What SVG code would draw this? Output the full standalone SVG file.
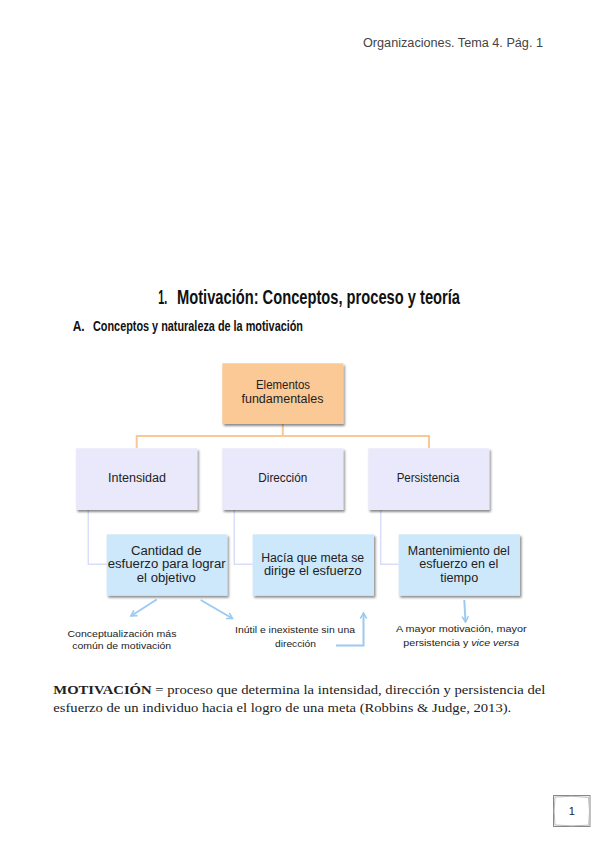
<svg xmlns="http://www.w3.org/2000/svg" width="599" height="848" viewBox="0 0 599 848">
<style>
.sans{font-family:"Liberation Sans","DejaVu Sans",sans-serif;fill:#222}
.node{font-size:12px;text-anchor:middle}
.lbl{font-size:9.5px;text-anchor:middle}
.hand{font-family:"Liberation Sans","DejaVu Sans",sans-serif;font-weight:bold;fill:#111}
.serif{font-family:"Liberation Serif","DejaVu Serif",serif;font-size:12.5px;fill:#222}
.orange{fill:#FAC995}
.lav{fill:#E9E9FB}
.blue{fill:#CDE8FA}
.oline{fill:none;stroke:#F9C894;stroke-width:2}
.lline{fill:none;stroke:#D9DDF9;stroke-width:1.5}
.arrow{fill:none;stroke:#9CCAF2;stroke-width:2;marker-end:url(#ah)}
</style>
<defs>
<filter id="sh" x="-10%" y="-10%" width="125%" height="130%">
<feDropShadow dx="1.5" dy="2" stdDeviation="1" flood-color="#000" flood-opacity="0.45"/>
</filter>
<marker id="ah" viewBox="0 0 10 10" refX="8" refY="5" markerWidth="4" markerHeight="4" orient="auto" markerUnits="strokeWidth">
<polyline points="1,1 8,5 1,9" fill="none" stroke="#9CCAF2" stroke-width="2"/>
</marker>
</defs>
<rect width="599" height="848" fill="#fff"/>

<text class="sans" x="363" y="47" font-size="12" style="fill:#444" textLength="180" lengthAdjust="spacingAndGlyphs">Organizaciones. Tema 4. Pág. 1</text>

<text class="hand" x="158.3" y="303.5" font-size="21" textLength="9" lengthAdjust="spacingAndGlyphs">1.</text>
<text class="hand" x="177" y="303.5" font-size="21" textLength="283" lengthAdjust="spacingAndGlyphs">Motivación: Conceptos, proceso y teoría</text>
<text class="hand" x="72.7" y="330.5" font-size="14.5" textLength="12" lengthAdjust="spacingAndGlyphs">A.</text>
<text class="hand" x="93" y="330.5" font-size="14.5" textLength="210" lengthAdjust="spacingAndGlyphs">Conceptos y naturaleza de la motivación</text>

<g id="connectors">
<path class="oline" d="M282.8,424 V436 M136.7,448 V436 H429 V448"/>
<path class="lline" d="M88.3,510 V564.3 H106.7"/>
<path class="lline" d="M234.3,510 V564.3 H252.7"/>
<path class="lline" d="M380.7,510 V564.3 H398.7"/>
<path class="arrow" d="M156.7,599.5 L131,616"/>
<path class="arrow" d="M200.7,600 L232.5,618.5"/>
<path class="arrow" d="M336,645.5 H363.5 V613"/>
<path class="arrow" d="M464.3,600 L465.5,622"/>
</g>

<g id="n-elementos">
<rect class="orange" x="222.3" y="363.3" width="121" height="60.7" filter="url(#sh)"/>
<text class="sans node" x="283" y="389.3" textLength="54" lengthAdjust="spacingAndGlyphs">Elementos</text>
<text class="sans node" x="282.5" y="403.3" textLength="82" lengthAdjust="spacingAndGlyphs">fundamentales</text>
</g>

<g id="n-intensidad">
<rect class="lav" x="76" y="448.3" width="121.3" height="61.7" filter="url(#sh)"/>
<text class="sans node" x="137" y="482.3" textLength="58" lengthAdjust="spacingAndGlyphs">Intensidad</text>
</g>
<g id="n-direccion">
<rect class="lav" x="222.3" y="448.3" width="121" height="61.7" filter="url(#sh)"/>
<text class="sans node" x="282.8" y="482.3" textLength="49" lengthAdjust="spacingAndGlyphs">Dirección</text>
</g>
<g id="n-persistencia">
<rect class="lav" x="368.3" y="448.3" width="121" height="61.7" filter="url(#sh)"/>
<text class="sans node" x="428" y="482.3" textLength="62.7" lengthAdjust="spacingAndGlyphs">Persistencia</text>
</g>

<g id="n-cantidad">
<rect class="blue" x="106.7" y="534.3" width="120.6" height="61.4" filter="url(#sh)"/>
<text class="sans node" x="166.3" y="555" textLength="70.7" lengthAdjust="spacingAndGlyphs">Cantidad de</text>
<text class="sans node" x="166.7" y="568.3" textLength="118" lengthAdjust="spacingAndGlyphs">esfuerzo para lograr</text>
<text class="sans node" x="166.3" y="581.7" textLength="59" lengthAdjust="spacingAndGlyphs">el objetivo</text>
</g>
<g id="n-hacia">
<rect class="blue" x="252.7" y="534.3" width="121.3" height="61.4" filter="url(#sh)"/>
<text class="sans node" x="312.7" y="562.3" textLength="103" lengthAdjust="spacingAndGlyphs">Hacía que meta se</text>
<text class="sans node" x="312.8" y="575.3" textLength="97.7" lengthAdjust="spacingAndGlyphs">dirige el esfuerzo</text>
</g>
<g id="n-mantenimiento">
<rect class="blue" x="398.7" y="534.3" width="121.3" height="61.4" filter="url(#sh)"/>
<text class="sans node" x="458.8" y="555" textLength="102" lengthAdjust="spacingAndGlyphs">Mantenimiento del</text>
<text class="sans node" x="458.7" y="568.3" textLength="79" lengthAdjust="spacingAndGlyphs">esfuerzo en el</text>
<text class="sans node" x="459.2" y="581.7" textLength="38" lengthAdjust="spacingAndGlyphs">tiempo</text>
</g>

<g id="l-conceptualizacion">
<text class="sans lbl" x="122" y="636.7" textLength="109" lengthAdjust="spacingAndGlyphs">Conceptualización más</text>
<text class="sans lbl" x="121.7" y="649.3" textLength="99" lengthAdjust="spacingAndGlyphs">común de motivación</text>
</g>
<g id="l-inutil">
<text class="sans lbl" x="295" y="633.3" textLength="120" lengthAdjust="spacingAndGlyphs">Inútil e inexistente sin una</text>
<text class="sans lbl" x="295.5" y="646.7" textLength="41" lengthAdjust="spacingAndGlyphs">dirección</text>
</g>
<g id="l-mayor">
<text class="sans lbl" x="461.3" y="632.3" textLength="130.7" lengthAdjust="spacingAndGlyphs">A mayor motivación, mayor</text>
<text class="sans lbl" x="461.2" y="645.7" textLength="115.7" lengthAdjust="spacingAndGlyphs">persistencia y <tspan font-style="italic">vice versa</tspan></text>
</g>

<text class="serif" x="53.3" y="694" textLength="492" lengthAdjust="spacingAndGlyphs"><tspan font-weight="bold">MOTIVACIÓN</tspan> = proceso que determina la intensidad, dirección y persistencia del</text>
<text class="serif" x="53.3" y="712" textLength="458" lengthAdjust="spacingAndGlyphs">esfuerzo de un individuo hacia el logro de una meta (Robbins &amp; Judge, 2013).</text>

<g id="page-number">
<rect x="553.5" y="795.5" width="36.5" height="31" fill="#fff" stroke="#888" stroke-width="1"/>
<path d="M555,797 Q571,795.5 588.5,797.3 Q590.5,811 588.7,825.2 Q571,826.5 555,825 Q553.3,811 555,797 Z" fill="none" stroke="#bbb" stroke-width="1"/>
<text class="sans" x="571.7" y="815" font-size="11" text-anchor="middle">1</text>
</g>
</svg>
